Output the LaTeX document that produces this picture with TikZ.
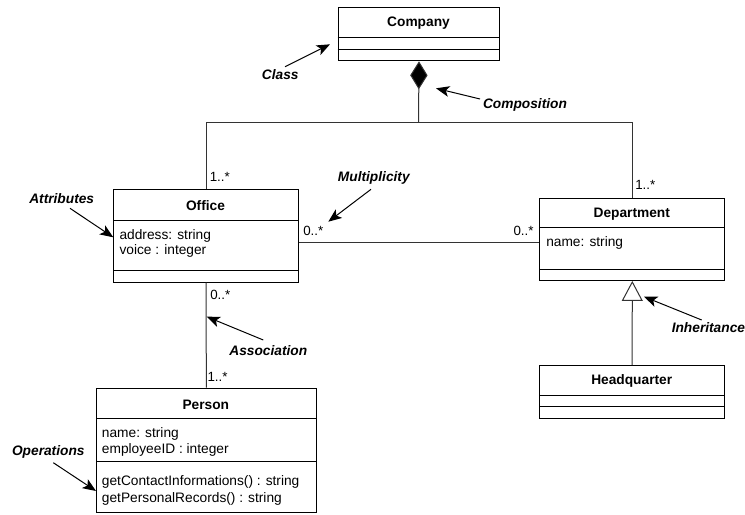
\documentclass[tikz,border=0pt]{standalone}
\usepackage{fontspec}
\setmainfont{Liberation Sans}
\usetikzlibrary{arrows.meta,calc}
\newcommand\compline[2]{\draw[line width=0.75pt] ($(#1.north west)+(0,#2)$) -- ($(#1.north east)+(0,#2)$);}
\begin{document}
\begin{tikzpicture}[x=0.75pt,y=-0.75pt,
  box/.style={draw=black, line width=0.75pt, inner sep=0pt, anchor=north west},
  conn/.style={draw=black!80, line width=0.75pt},
  title/.style={font=\fontsize{10.3}{12}\selectfont\bfseries, inner sep=0pt},
  member/.style={font=\fontsize{10.3}{12}\selectfont, inner sep=0pt, anchor=west},
  mult/.style={font=\fontsize{10}{12}\selectfont, inner sep=0pt, anchor=west},
  note/.style={font=\fontsize{10.3}{12}\selectfont\bfseries\itshape, inner sep=0pt},
  pointer/.style={draw=black, line width=0.75pt, -{Stealth[length=10pt,width=8pt,inset=2.5pt]}},
]
\useasboundingbox (0,0) rectangle (745,514);

% classes
\node[box, minimum width=121.2pt, minimum height=39.75pt] (company) at (337.7,7.3) {};
\node[box, minimum width=138.3pt, minimum height=69.3pt] (office) at (113.3,189.3) {};
\node[box, minimum width=138.75pt, minimum height=61.7pt] (dept) at (539.3,197.7) {};
\node[box, minimum width=164.8pt, minimum height=93pt] (person) at (96,387.7) {};
\node[box, minimum width=138.5pt, minimum height=39.5pt] (hq) at (539.3,365) {};

\compline{company}{30}
\compline{company}{41.7}
\compline{office}{30.7}
\compline{office}{80.7}
\compline{dept}{30}
\compline{dept}{71.3}
\compline{person}{30.6}
\compline{person}{74}
\compline{hq}{30}
\compline{hq}{41}

% titles
\node[title] (companyT) at (418.5,23.5) {Company};
\node[title] (officeT) at (205.5,205.5) {Office};
\node[title] (deptT) at (631.8,214) {Department};
\node[title] (personT) at (205.85,404.5) {Person};
\node[title] (hqT) at (631.7,381) {Headquarter};

% members
\node[member] (oa1) at (119.3,236) {address: string};
\node[member] (oa2) at (119.3,250.7) {voice : integer};
\node[member] (da1) at (546,243.3) {name: string};
\node[member] (pa1) at (101.7,434) {name: string};
\node[member] (pa2) at (101.7,450) {employeeID : integer};
\node[member] (po1) at (101.7,481.7) {getContactInformations() : string};
\node[member] (po2) at (101.7,499) {getPersonalRecords() : string};

% connectors
\coordinate (jc) at (418.5,122.7);
\coordinate (hy) at (420,242.7);
\draw[conn, {Diamond[length=21pt 0 0,width=13pt 0 0,fill=black]}-] (company.south) -- (jc);
\draw[conn] (office.north) |- (jc) -| (dept.north);
\draw[conn] (office.east |- hy) -- (dept.west |- hy);
\draw[conn] (office.south) -- (person.north);
\draw[conn, -{Triangle[open,length=15pt 0 0,width=15.75pt 0 0,fill=white]}] (hq.north) -- (dept.south);

% multiplicities
\node[mult] (m1) at (209.5,176.7) {1..*};
\node[mult] (m2) at (303,230.5) {0..*};
\node[mult] (m3) at (513.3,230.5) {0..*};
\node[mult] (m4) at (635,185) {1..*};
\node[mult] (m5) at (210,295) {0..*};
\node[mult] (m6) at (207.3,376.7) {1..*};

% annotations
\node[note] (nClass) at (280.2,75) {Class};
\node[note] (nComp) at (525,105) {Composition};
\node[note] (nAttr) at (61.7,198.3) {Attributes};
\node[note] (nMult) at (373.8,178.3) {Multiplicity};
\node[note] (nAssoc) at (268.3,350.7) {Association};
\node[note] (nOps) at (48.3,451.7) {Operations};
\node[note] (nInh) at (708.4,327.3) {Inheritance};

\coordinate (sClass) at (285,66.7);   \coordinate (tClass) at (330,44.3);
\coordinate (sComp) at (480,99);      \coordinate (tComp) at (436,88.3);
\coordinate (sAttr) at (70,208.3);    \coordinate (tAttr) at (113.3,237.3);
\coordinate (sMult) at (371,189.3);   \coordinate (tMult) at (328.3,221.7);
\coordinate (sAssoc) at (263.3,340);  \coordinate (tAssoc) at (206.7,316.7);
\coordinate (sOps) at (53.3,462.7);   \coordinate (tOps) at (96,491);
\coordinate (sInh) at (701.7,320);    \coordinate (tInh) at (644,296.7);

\draw[pointer] (sClass) -- (tClass);
\draw[pointer] (sComp) -- (tComp);
\draw[pointer] (sAttr) -- (tAttr);
\draw[pointer] (sMult) -- (tMult);
\draw[pointer] (sAssoc) -- (tAssoc);
\draw[pointer] (sOps) -- (tOps);
\draw[pointer] (sInh) -- (tInh);
\end{tikzpicture}
\end{document}
